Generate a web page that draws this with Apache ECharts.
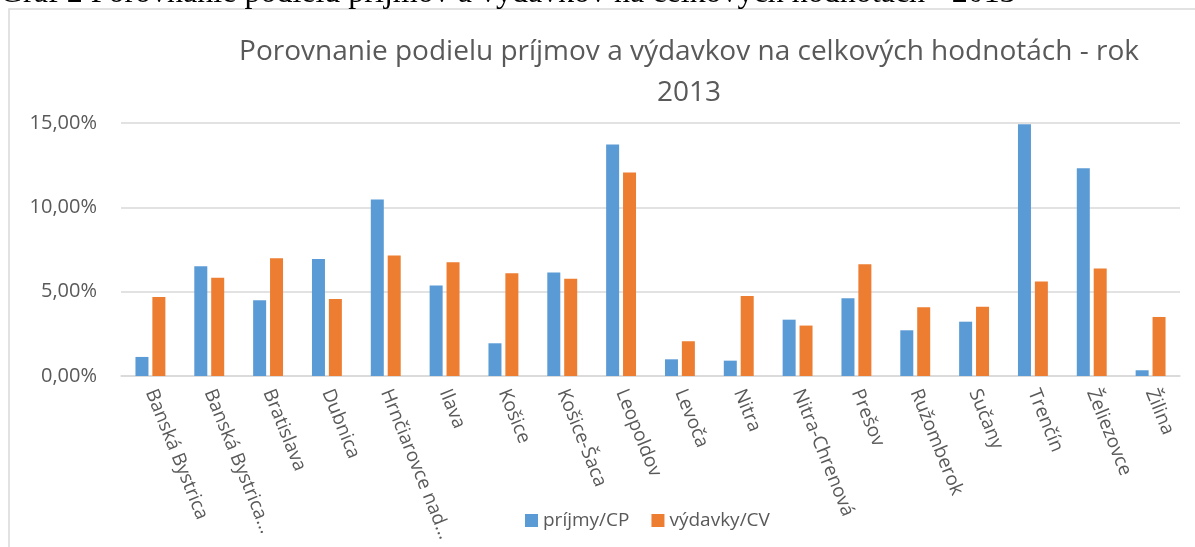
<!DOCTYPE html>
<html>
<head>
<meta charset="utf-8">
<script src="https://cdn.jsdelivr.net/npm/echarts/dist/echarts.min.js"></script>
<style>
  html, body { margin: 0; padding: 0; background: #fff; }
  #chart { width: 1195px; height: 547px; }
</style>
</head>
<body>
<div id="chart"></div>
<script>
var categories = ['Banská Bystrica', 'Banská Bystrica...', 'Bratislava', 'Dubnica', 'Hrnčiarovce nad...',
  'Ilava', 'Košice', 'Košice-Šaca', 'Leopoldov', 'Levoča', 'Nitra', 'Nitra-Chrenová', 'Prešov',
  'Ružomberok', 'Sučany', 'Trenčín', 'Želiezovce', 'Žilina'];
// podiely v %
var prijmy = [1.13, 6.50, 4.49, 6.94, 10.46, 5.36, 1.94, 6.13, 13.73, 0.99, 0.91, 3.34, 4.61, 2.71, 3.22, 14.92, 12.31, 0.34];
var vydavky = [4.68, 5.83, 6.98, 4.56, 7.15, 6.74, 6.09, 5.77, 12.07, 2.06, 4.74, 2.99, 6.62, 4.07, 4.11, 5.61, 6.38, 3.50];
var yTicks = [0, 5, 10, 15];

var grey = '#595959';
var font = '"Open Sans", sans-serif';

var chart = echarts.init(document.getElementById('chart'));
chart.setOption({
  animation: false,
  textStyle: { fontFamily: font },
  graphic: [
    {
      type: 'rect',
      shape: { x: 9, y: 9, width: 1400, height: 700 },
      style: { fill: '#fff', stroke: '#d9d9d9', lineWidth: 1.5 },
      z: -10
    },
    {
      type: 'text',
      x: 0, y: 10,
      style: {
        text: 'Graf 2 Porovnanie podielu príjmov a výdavkov na celkových hodnotách - 2013',
        font: '32px "Liberation Serif", serif',
        fill: '#000',
        verticalAlign: 'bottom'
      },
      z: -5
    }
  ],
  title: {
    text: 'Porovnanie podielu príjmov a výdavkov na celkových hodnotách - rok\n2013',
    left: 684,
    top: 27,
    textAlign: 'center',
    textStyle: { color: grey, fontSize: 28, fontWeight: 'normal', lineHeight: 41, fontFamily: font }
  },
  legend: {
    data: ['príjmy/CP', 'výdavky/CV'],
    left: 520,
    top: 506,
    icon: 'rect',
    itemWidth: 13,
    itemHeight: 13,
    itemGap: 22,
    textStyle: { color: grey, fontSize: 19, fontFamily: font }
  },
  grid: { left: 121, right: 15, top: 123, bottom: 171 },
  xAxis: {
    type: 'category',
    data: categories,
    axisLine: { lineStyle: { color: '#d9d9d9', width: 1.5 } },
    axisTick: { show: false },
    axisLabel: { rotate: -68, color: grey, fontSize: 19, margin: 14, interval: 0, fontFamily: font }
  },
  yAxis: {
    type: 'value',
    min: yTicks[0],
    max: yTicks[yTicks.length - 1],
    interval: 5,
    axisLine: { show: false },
    axisTick: { show: false },
    splitLine: { lineStyle: { color: '#d9d9d9', width: 1.5 } },
    axisLabel: {
      color: grey, fontSize: 20, margin: 24, fontFamily: font,
      formatter: function (v) { return v.toFixed(2).replace('.', ',') + '%'; }
    }
  },
  series: [
    {
      name: 'príjmy/CP', type: 'bar', data: prijmy,
      barWidth: 13, barGap: '30%',
      itemStyle: { color: '#5B9BD5' }
    },
    {
      name: 'výdavky/CV', type: 'bar', data: vydavky,
      barWidth: 13,
      itemStyle: { color: '#ED7D31' }
    }
  ]
});
</script>
</body>
</html>
